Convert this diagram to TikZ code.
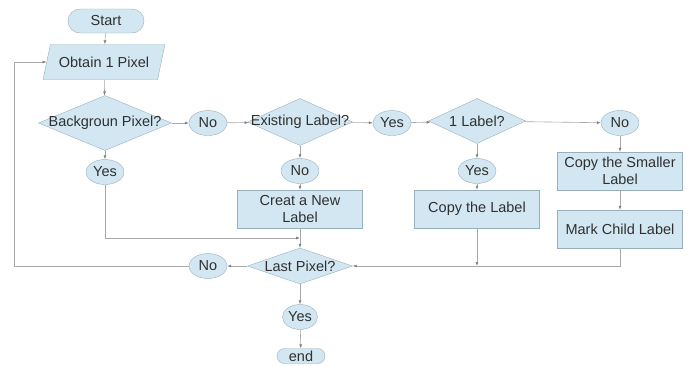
\documentclass[tikz,border=0pt]{standalone}
\usepackage{fontspec}
\setmainfont{Liberation Sans}
\usepackage{tikz}
\usetikzlibrary{shapes.geometric,shapes.misc,arrows.meta}

\definecolor{boxfill}{HTML}{D2E7F2}
\definecolor{boxline}{HTML}{9AAFBC}
\definecolor{linegrey}{HTML}{A8A8A8}
\definecolor{tipgrey}{HTML}{808080}
\definecolor{txt}{HTML}{303030}

\newcommand{\dtext}[1]{\makebox[0pt]{#1}}

\begin{document}
\begin{tikzpicture}[x=1pt, y=-1pt,
		every node/.style={text=txt, font=\fontsize{14.5}{16.5}\selectfont},
		term/.style={rounded rectangle, draw=boxline, fill=boxfill, inner sep=0pt, minimum width=76pt, minimum height=24pt},
		io/.style={trapezium, trapezium left angle=60, trapezium right angle=120, trapezium stretches=true, draw=boxline, fill=boxfill, inner sep=0pt, minimum width=122pt, minimum height=35pt},
		test/.style={diamond, draw=boxline, fill=boxfill, inner sep=0pt},
		ans/.style={ellipse, draw=boxline, fill=boxfill, inner sep=0pt, minimum width=38pt, minimum height=25pt},
		proc/.style={rectangle, draw=boxline, fill=boxfill, align=center, inner sep=0pt, minimum width=125pt, minimum height=38pt},
		arr/.style={draw=linegrey, line width=0.6pt, -{Latex[length=4pt,width=3pt,color=tipgrey]}}]
		\useasboundingbox (0,0) rectangle (689,365);

		\path (106,21) node[term] (start) {Start}
		(104,62) node[io] (obtain) {Obtain 1 Pixel}
		(105,123) node[test, minimum width=133pt, minimum height=55pt] (bgq) {\dtext{Backgroun Pixel?}}
		(208,123) node[ans] (no1) {No}
		(300,122) node[test, minimum width=105pt, minimum height=47pt] (exq) {\dtext{Existing Label?}}
		(392,123) node[ans] (yes1) {Yes}
		(477,121) node[test, minimum width=97pt, minimum height=45pt] (oneq) {\dtext{1 Label?}}
		(620,123) node[ans] (no2) {No}
		(105,172) node[ans] (yes2) {Yes}
		(300,171) node[ans] (no3) {No}
		(477,171) node[ans] (yes3) {Yes}
		(300,209) node[proc] (newlbl) {Creat a New\\Label}
		(477,209) node[proc] (copylbl) {Copy the Label}
		(620,171) node[proc] (smaller) {Copy the Smaller\\Label}
		(620,229) node[proc] (mark) {Mark Child Label}
		(300,266) node[test, minimum width=105pt, minimum height=36pt] (lastq) {\dtext{Last Pixel?}}
		(208,266) node[ans] (no4) {No}
		(300,317) node[ans, minimum width=35pt] (yes4) {Yes}
		(301,356) node[term, minimum width=48pt, minimum height=15pt] (finish) {end};

		\coordinate (j1) at (300,238);
		\coordinate (j2) at (477,266);
		\coordinate (c1) at (14,266);

		\draw[arr] (start) edge (obtain)
		(obtain) edge (bgq)
		(bgq) edge (no1)
		(no1) edge (exq)
		(exq) edge (yes1)
		(yes1) edge (oneq)
		(oneq) edge (no2)
		(no2) edge (smaller)
		(smaller) edge (mark)
		(bgq) edge (yes2)
		(exq) edge (no3)
		(no3) edge (newlbl)
		(oneq) edge (yes3)
		(yes3) edge (copylbl)
		(newlbl) edge (lastq)
		(copylbl) edge (j2)
		(lastq) edge (no4)
		(lastq) edge (yes4)
		(yes4) edge (finish);
		\draw[arr] (yes2) |- (j1);
		\draw[arr] (mark) |- (lastq);
		\draw[arr] (no4) -- (c1) |- (obtain);

	\end{tikzpicture}
\end{document}
